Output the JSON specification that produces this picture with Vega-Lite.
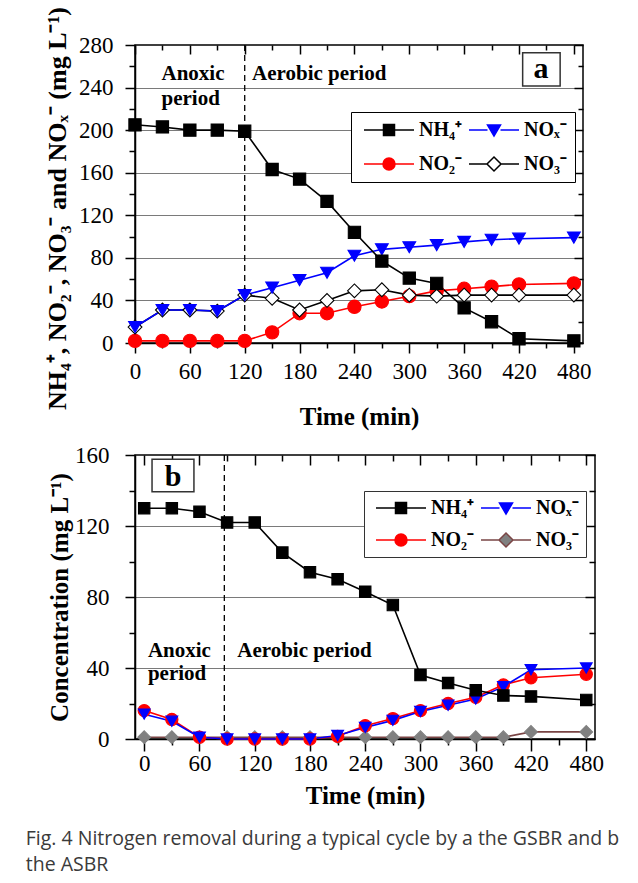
{
  "$schema": "https://vega.github.io/schema/vega-lite/v6.json",
  "background": "white",
  "padding": {"left": 25, "top": 5, "right": 5, "bottom": 4},
  "spacing": 13,
  "title": {
    "text": "Fig. 4 Nitrogen removal during a typical cycle by a the GSBR and b",
    "subtitle": "the ASBR",
    "orient": "bottom", "anchor": "start", "font": "Open Sans", "fontSize": 19.5, "fontWeight": "normal",
    "color": "#3a3a3a", "offset": 21, "dx": -18,
    "subtitleFont": "Open Sans", "subtitleFontSize": 19.5, "subtitleFontWeight": "normal", "subtitleColor": "#3a3a3a", "subtitlePadding": 7
  },
  "config": {
    "font": "Liberation Serif",
    "view": {"stroke": "black", "strokeWidth": 1.5},
    "axis": {
      "domainColor": "black", "domainWidth": 1.5, "tickColor": "black", "tickWidth": 1.5,
      "labelFont": "Liberation Serif", "labelFontSize": 23, "labelColor": "black",
      "titleFont": "Liberation Serif", "titleFontWeight": "bold", "titleColor": "black",
      "labelFlush": false, "labelOverlap": false
    }
  },
  "datasets": {
    "a": [
      {"s":"NO₂⁻","t":0,"c":2},{"s":"NO₂⁻","t":30,"c":2},{"s":"NO₂⁻","t":60,"c":2},{"s":"NO₂⁻","t":90,"c":2},{"s":"NO₂⁻","t":120,"c":2},{"s":"NO₂⁻","t":150,"c":10},{"s":"NO₂⁻","t":180,"c":28},{"s":"NO₂⁻","t":210,"c":28},{"s":"NO₂⁻","t":240,"c":34},{"s":"NO₂⁻","t":270,"c":39},{"s":"NO₂⁻","t":300,"c":44},{"s":"NO₂⁻","t":330,"c":49},{"s":"NO₂⁻","t":360,"c":51},{"s":"NO₂⁻","t":390,"c":53},{"s":"NO₂⁻","t":420,"c":55},{"s":"NO₂⁻","t":480,"c":56},
      {"s":"NO₃⁻","t":0,"c":15},{"s":"NO₃⁻","t":30,"c":31},{"s":"NO₃⁻","t":60,"c":31},{"s":"NO₃⁻","t":90,"c":30},{"s":"NO₃⁻","t":120,"c":45},{"s":"NO₃⁻","t":150,"c":42},{"s":"NO₃⁻","t":180,"c":31},{"s":"NO₃⁻","t":210,"c":40},{"s":"NO₃⁻","t":240,"c":49},{"s":"NO₃⁻","t":270,"c":50},{"s":"NO₃⁻","t":300,"c":45},{"s":"NO₃⁻","t":330,"c":44},{"s":"NO₃⁻","t":360,"c":45},{"s":"NO₃⁻","t":390,"c":45},{"s":"NO₃⁻","t":420,"c":45},{"s":"NO₃⁻","t":480,"c":45},
      {"s":"NOₓ⁻","t":0,"c":15},{"s":"NOₓ⁻","t":30,"c":31},{"s":"NOₓ⁻","t":60,"c":31},{"s":"NOₓ⁻","t":90,"c":30},{"s":"NOₓ⁻","t":120,"c":45},{"s":"NOₓ⁻","t":150,"c":52},{"s":"NOₓ⁻","t":180,"c":59},{"s":"NOₓ⁻","t":210,"c":66},{"s":"NOₓ⁻","t":240,"c":82},{"s":"NOₓ⁻","t":270,"c":88},{"s":"NOₓ⁻","t":300,"c":90},{"s":"NOₓ⁻","t":330,"c":92},{"s":"NOₓ⁻","t":360,"c":95},{"s":"NOₓ⁻","t":390,"c":97},{"s":"NOₓ⁻","t":420,"c":98},{"s":"NOₓ⁻","t":480,"c":99},
      {"s":"NH₄⁺","t":0,"c":205},{"s":"NH₄⁺","t":30,"c":203},{"s":"NH₄⁺","t":60,"c":200},{"s":"NH₄⁺","t":90,"c":200},{"s":"NH₄⁺","t":120,"c":199},{"s":"NH₄⁺","t":150,"c":163},{"s":"NH₄⁺","t":180,"c":154},{"s":"NH₄⁺","t":210,"c":133},{"s":"NH₄⁺","t":240,"c":104},{"s":"NH₄⁺","t":270,"c":77},{"s":"NH₄⁺","t":300,"c":61},{"s":"NH₄⁺","t":330,"c":56},{"s":"NH₄⁺","t":360,"c":33},{"s":"NH₄⁺","t":390,"c":20},{"s":"NH₄⁺","t":420,"c":4},{"s":"NH₄⁺","t":480,"c":2}
    ],
    "b": [
      {"s":"NO₃⁻","t":0,"c":1},{"s":"NO₃⁻","t":30,"c":1},{"s":"NO₃⁻","t":60,"c":1},{"s":"NO₃⁻","t":90,"c":1},{"s":"NO₃⁻","t":120,"c":1},{"s":"NO₃⁻","t":150,"c":1},{"s":"NO₃⁻","t":180,"c":1},{"s":"NO₃⁻","t":210,"c":1},{"s":"NO₃⁻","t":240,"c":1},{"s":"NO₃⁻","t":270,"c":1},{"s":"NO₃⁻","t":300,"c":1},{"s":"NO₃⁻","t":330,"c":1},{"s":"NO₃⁻","t":360,"c":1},{"s":"NO₃⁻","t":390,"c":1},{"s":"NO₃⁻","t":420,"c":4},{"s":"NO₃⁻","t":480,"c":4},
      {"s":"NO₂⁻","t":0,"c":16},{"s":"NO₂⁻","t":30,"c":11},{"s":"NO₂⁻","t":60,"c":1},{"s":"NO₂⁻","t":90,"c":0},{"s":"NO₂⁻","t":120,"c":0},{"s":"NO₂⁻","t":150,"c":0},{"s":"NO₂⁻","t":180,"c":0},{"s":"NO₂⁻","t":210,"c":1.5},{"s":"NO₂⁻","t":240,"c":7.5},{"s":"NO₂⁻","t":270,"c":11.5},{"s":"NO₂⁻","t":300,"c":16},{"s":"NO₂⁻","t":330,"c":20},{"s":"NO₂⁻","t":360,"c":23.5},{"s":"NO₂⁻","t":390,"c":30.5},{"s":"NO₂⁻","t":420,"c":34.5},{"s":"NO₂⁻","t":480,"c":36.5},
      {"s":"NOₓ⁻","t":0,"c":14},{"s":"NOₓ⁻","t":30,"c":10},{"s":"NOₓ⁻","t":60,"c":1},{"s":"NOₓ⁻","t":90,"c":0},{"s":"NOₓ⁻","t":120,"c":0},{"s":"NOₓ⁻","t":150,"c":0},{"s":"NOₓ⁻","t":180,"c":0},{"s":"NOₓ⁻","t":210,"c":2},{"s":"NOₓ⁻","t":240,"c":6.5},{"s":"NOₓ⁻","t":270,"c":10.5},{"s":"NOₓ⁻","t":300,"c":15.5},{"s":"NOₓ⁻","t":330,"c":19},{"s":"NOₓ⁻","t":360,"c":22.5},{"s":"NOₓ⁻","t":390,"c":29.5},{"s":"NOₓ⁻","t":420,"c":39},{"s":"NOₓ⁻","t":480,"c":40},
      {"s":"NH₄⁺","t":0,"c":130},{"s":"NH₄⁺","t":30,"c":130},{"s":"NH₄⁺","t":60,"c":128},{"s":"NH₄⁺","t":90,"c":122},{"s":"NH₄⁺","t":120,"c":122},{"s":"NH₄⁺","t":150,"c":105},{"s":"NH₄⁺","t":180,"c":94},{"s":"NH₄⁺","t":210,"c":90},{"s":"NH₄⁺","t":240,"c":83},{"s":"NH₄⁺","t":270,"c":75.5},{"s":"NH₄⁺","t":300,"c":36},{"s":"NH₄⁺","t":330,"c":31.5},{"s":"NH₄⁺","t":360,"c":27.5},{"s":"NH₄⁺","t":390,"c":24.5},{"s":"NH₄⁺","t":420,"c":24},{"s":"NH₄⁺","t":480,"c":22}
    ]
  },
  "vconcat": [
    {
      "width": 448, "height": 298,
      "data": {"name": "a"},
      "resolve": {"scale": {"shape": "independent", "fill": "independent", "stroke": "independent", "size": "independent"}, "axis": {"x": "independent", "y": "independent"}},
      "layer": [
        {
          "mark": {"type": "line", "strokeWidth": 1.6},
          "encoding": {
            "x": {"field": "t", "type": "quantitative", "scale": {"domain": [0, 490], "nice": false, "zero": false},
              "axis": {"orient": "bottom", "values": [0,30,60,90,120,150,180,210,240,270,300,330,360,390,420,450,480],
                "labelExpr": "datum.value % 60 === 0 ? datum.label : ''",
                "tickSize": {"condition": {"test": "datum.value % 60 === 0", "value": 10}, "value": 5},
                "labelPadding": 7, "title": "Time (min)", "titleFontSize": 25, "titlePadding": 21, "grid": false}},
            "y": {"field": "c", "type": "quantitative", "scale": {"domain": [0, 280], "nice": false},
              "axis": {"orient": "left", "values": [0,20,40,60,80,100,120,140,160,180,200,220,240,260,280],
                "labelExpr": "datum.value % 40 === 0 ? datum.label : ''",
                "tickSize": {"condition": {"test": "datum.value % 40 === 0", "value": 10}, "value": 6},
                "labelPadding": 12, "title": "NH₄⁺, NO₂⁻, NO₃⁻ and NOₓ⁻ (mg L⁻¹)", "titleFontSize": 26, "titlePadding": 8, "titleY": 163,
                "grid": true, "gridColor": "#7a7a7a", "gridWidth": 1.2,
                "gridOpacity": {"condition": {"test": "datum.value % 40 === 0 && datum.value > 0 && datum.value < 280", "value": 1}, "value": 0}}},
            "stroke": {"field": "s", "type": "nominal", "legend": null,
              "scale": {"domain": ["NH₄⁺", "NOₓ⁻", "NO₂⁻", "NO₃⁻"], "range": ["#000000", "#0000ff", "#ff0000", "#000000"]}}
          }
        },
        {
          "data": {"values": [{}]},
          "mark": {"type": "rule", "color": "black", "strokeWidth": 1.3, "strokeDash": [6, 4]},
          "encoding": {"x": {"datum": 120, "axis": null}}
        },
        {
          "mark": {"type": "point", "filled": true, "opacity": 1, "strokeWidth": 1.1},
          "encoding": {
            "x": {"field": "t", "type": "quantitative", "axis": null},
            "y": {"field": "c", "type": "quantitative", "axis": null},
            "shape": {"field": "s", "type": "nominal", "legend": null,
              "scale": {"domain": ["NH₄⁺", "NOₓ⁻", "NO₂⁻", "NO₃⁻"], "range": ["square", "triangle-down", "circle", "diamond"]}},
            "fill": {"field": "s", "type": "nominal", "legend": null,
              "scale": {"domain": ["NH₄⁺", "NOₓ⁻", "NO₂⁻", "NO₃⁻"], "range": ["#000000", "#0000ff", "#ff0000", "#ffffff"]}},
            "stroke": {"field": "s", "type": "nominal", "legend": null,
              "scale": {"domain": ["NH₄⁺", "NOₓ⁻", "NO₂⁻", "NO₃⁻"], "range": ["#000000", "#0000ff", "#ff0000", "#000000"]}},
            "size": {"field": "s", "type": "nominal", "legend": null,
              "scale": {"domain": ["NH₄⁺", "NOₓ⁻", "NO₂⁻", "NO₃⁻"], "range": [150, 190, 140, 190]}}
          }
        },
        {
          "transform": [{"filter": "false"}],
          "mark": {"type": "point", "filled": true},
          "encoding": {
            "x": {"field": "t", "type": "quantitative",
              "axis": {"orient": "top", "values": [0,30,60,90,120,150,180,210,240,270,300,330,360,390,420,450,480], "labels": false, "domain": false, "title": null, "grid": false,
                "tickSize": {"condition": {"test": "datum.value % 60 === 0", "value": -9}, "value": -5}}},
            "y": {"field": "c", "type": "quantitative",
              "axis": {"orient": "right", "values": [0,20,40,60,80,100,120,140,160,180,200,220,240,260,280], "labels": false, "domain": false, "title": null, "grid": false,
                "tickSize": {"condition": {"test": "datum.value % 40 === 0", "value": -9}, "value": -5}}},
            "shape": {"field": "s", "type": "nominal",
              "scale": {"domain": ["NH₄⁺", "NOₓ⁻", "NO₂⁻", "NO₃⁻"], "range": [
                "M-1,0H2.9M5.1,0H9M2.9,-1.1H5.1V1.1H2.9Z",
                "M-1,0H2.7M5.3,0H9M2.7,-1H5.3L4,1.2Z",
                "M-1,0H2.8M5.2,0H9M2.8,0A1.2,1.2,0,1,1,5.2,0A1.2,1.2,0,1,1,2.8,0Z",
                "M-1,0H2.6M5.4,0H9M4,-1.4L5.4,0L4,1.4L2.6,0Z"]},
              "legend": {"title": null, "orient": "none", "legendX": 216, "legendY": 67, "columns": 2, "direction": "horizontal", "symbolSize": 100, "symbolStrokeWidth": 1.5, "symbolOpacity": 1,
                "labelFont": "Liberation Serif", "labelFontWeight": "bold", "labelFontSize": 20, "labelColor": "black", "labelOffset": 40,
                "columnPadding": 2, "rowPadding": 14, "padding": 8, "strokeColor": "black", "fillColor": "white"}},
            "fill": {"field": "s", "type": "nominal",
              "scale": {"domain": ["NH₄⁺", "NOₓ⁻", "NO₂⁻", "NO₃⁻"], "range": ["#000000", "#0000ff", "#ff0000", "#ffffff"]},
              "legend": {"title": null, "orient": "none", "legendX": 216, "legendY": 67, "columns": 2, "direction": "horizontal", "symbolSize": 100, "symbolStrokeWidth": 1.5, "symbolOpacity": 1,
                "labelFont": "Liberation Serif", "labelFontWeight": "bold", "labelFontSize": 20, "labelColor": "black", "labelOffset": 40,
                "columnPadding": 2, "rowPadding": 14, "padding": 8, "strokeColor": "black", "fillColor": "white"}},
            "stroke": {"field": "s", "type": "nominal",
              "scale": {"domain": ["NH₄⁺", "NOₓ⁻", "NO₂⁻", "NO₃⁻"], "range": ["#000000", "#0000ff", "#ff0000", "#000000"]},
              "legend": {"title": null, "orient": "none", "legendX": 216, "legendY": 67, "columns": 2, "direction": "horizontal", "symbolSize": 100, "symbolStrokeWidth": 1.5, "symbolOpacity": 1,
                "labelFont": "Liberation Serif", "labelFontWeight": "bold", "labelFontSize": 20, "labelColor": "black", "labelOffset": 40,
                "columnPadding": 2, "rowPadding": 14, "padding": 8, "strokeColor": "black", "fillColor": "white"}}
          }
        },
        {
          "data": {"values": [{}]},
          "mark": {"type": "text", "align": "left", "baseline": "alphabetic", "fontWeight": "bold", "fontSize": 21, "lineHeight": 25, "color": "black"},
          "encoding": {"x": {"datum": 29, "axis": null}, "y": {"datum": 247, "axis": null}, "text": {"value": ["Anoxic", "period"]}}
        },
        {
          "data": {"values": [{}]},
          "mark": {"type": "text", "align": "left", "baseline": "alphabetic", "fontWeight": "bold", "fontSize": 21, "color": "black"},
          "encoding": {"x": {"datum": 128, "axis": null}, "y": {"datum": 247, "axis": null}, "text": {"value": "Aerobic period"}}
        },
        {
          "data": {"values": [{}]},
          "mark": {"type": "rect", "fill": "white", "stroke": "#333333", "strokeWidth": 1.5},
          "encoding": {"x": {"datum": 424, "axis": null}, "x2": {"datum": 465}, "y": {"datum": 272.8, "axis": null}, "y2": {"datum": 241.5}}
        },
        {
          "data": {"values": [{}]},
          "mark": {"type": "text", "align": "center", "baseline": "alphabetic", "fontWeight": "bold", "fontSize": 30, "color": "black"},
          "encoding": {"x": {"datum": 444, "axis": null}, "y": {"datum": 249, "axis": null}, "text": {"value": "a"}}
        }
      ]
    },
    {
      "width": 460, "height": 284,
      "data": {"name": "b"},
      "resolve": {"scale": {"shape": "independent", "fill": "independent", "stroke": "independent", "size": "independent"}, "axis": {"x": "independent", "y": "independent"}},
      "layer": [
        {
          "mark": {"type": "line", "strokeWidth": 1.6},
          "encoding": {
            "x": {"field": "t", "type": "quantitative", "scale": {"domain": [-10, 489.5], "nice": false, "zero": false},
              "axis": {"orient": "bottom", "values": [0,30,60,90,120,150,180,210,240,270,300,330,360,390,420,450,480],
                "labelExpr": "datum.value % 60 === 0 ? datum.label : ''",
                "tickSize": {"condition": {"test": "datum.value % 60 === 0", "value": 12}, "value": 6},
                "labelPadding": 1, "title": "Time (min)", "titleFontSize": 25, "titlePadding": 8, "grid": false}},
            "y": {"field": "c", "type": "quantitative", "scale": {"domain": [0, 160], "nice": false},
              "axis": {"orient": "left", "values": [0,20,40,60,80,100,120,140,160],
                "labelExpr": "datum.value % 40 === 0 ? datum.label : ''",
                "tickSize": {"condition": {"test": "datum.value % 40 === 0", "value": 10}, "value": 6},
                "labelPadding": 16, "title": "Concentration (mg L⁻¹)", "titleFontSize": 25, "titlePadding": 2,
                "grid": true, "gridColor": "#7a7a7a", "gridWidth": 1.2,
                "gridOpacity": {"condition": {"test": "datum.value % 40 === 0 && datum.value > 0 && datum.value < 160", "value": 1}, "value": 0}}},
            "stroke": {"field": "s", "type": "nominal", "legend": null,
              "scale": {"domain": ["NH₄⁺", "NOₓ⁻", "NO₂⁻", "NO₃⁻"], "range": ["#000000", "#0000ff", "#ff0000", "#7a4545"]}}
          }
        },
        {
          "data": {"values": [{}]},
          "mark": {"type": "rule", "color": "black", "strokeWidth": 1.3, "strokeDash": [6, 4]},
          "encoding": {"x": {"datum": 87, "axis": null}}
        },
        {
          "mark": {"type": "point", "filled": true, "opacity": 1, "strokeWidth": 1.1},
          "encoding": {
            "x": {"field": "t", "type": "quantitative", "axis": null},
            "y": {"field": "c", "type": "quantitative", "axis": null},
            "shape": {"field": "s", "type": "nominal", "legend": null,
              "scale": {"domain": ["NH₄⁺", "NOₓ⁻", "NO₂⁻", "NO₃⁻"], "range": ["square", "triangle-down", "circle", "diamond"]}},
            "fill": {"field": "s", "type": "nominal", "legend": null,
              "scale": {"domain": ["NH₄⁺", "NOₓ⁻", "NO₂⁻", "NO₃⁻"], "range": ["#000000", "#0000ff", "#ff0000", "#808080"]}},
            "stroke": {"field": "s", "type": "nominal", "legend": null,
              "scale": {"domain": ["NH₄⁺", "NOₓ⁻", "NO₂⁻", "NO₃⁻"], "range": ["#000000", "#0000ff", "#ff0000", "#808080"]}},
            "size": {"field": "s", "type": "nominal", "legend": null,
              "scale": {"domain": ["NH₄⁺", "NOₓ⁻", "NO₂⁻", "NO₃⁻"], "range": [130, 160, 125, 150]}}
          }
        },
        {
          "transform": [{"filter": "false"}],
          "mark": {"type": "point", "filled": true},
          "encoding": {
            "x": {"field": "t", "type": "quantitative",
              "axis": {"orient": "top", "values": [0,30,60,90,120,150,180,210,240,270,300,330,360,390,420,450,480], "labels": false, "domain": false, "title": null, "grid": false,
                "tickSize": {"condition": {"test": "datum.value % 60 === 0", "value": -10}, "value": -6}}},
            "y": {"field": "c", "type": "quantitative",
              "axis": {"orient": "right", "values": [0,20,40,60,80,100,120,140,160], "labels": false, "domain": false, "title": null, "grid": false,
                "tickSize": {"condition": {"test": "datum.value % 40 === 0", "value": -10}, "value": -6}}},
            "shape": {"field": "s", "type": "nominal",
              "scale": {"domain": ["NH₄⁺", "NOₓ⁻", "NO₂⁻", "NO₃⁻"], "range": [
                "M-1,0H2.9M5.1,0H9M2.9,-1.1H5.1V1.1H2.9Z",
                "M-1,0H2.7M5.3,0H9M2.7,-1H5.3L4,1.2Z",
                "M-1,0H2.8M5.2,0H9M2.8,0A1.2,1.2,0,1,1,5.2,0A1.2,1.2,0,1,1,2.8,0Z",
                "M-1,0H2.6M5.4,0H9M4,-1.4L5.4,0L4,1.4L2.6,0Z"]},
              "legend": {"title": null, "orient": "none", "legendX": 229, "legendY": 36, "columns": 2, "direction": "horizontal", "symbolSize": 100, "symbolStrokeWidth": 1.5, "symbolOpacity": 1,
                "labelFont": "Liberation Serif", "labelFontWeight": "bold", "labelFontSize": 20, "labelColor": "black", "labelOffset": 40,
                "columnPadding": 2, "rowPadding": 12, "padding": 7, "strokeColor": "#333333", "fillColor": "white"}},
            "fill": {"field": "s", "type": "nominal",
              "scale": {"domain": ["NH₄⁺", "NOₓ⁻", "NO₂⁻", "NO₃⁻"], "range": ["#000000", "#0000ff", "#ff0000", "#808080"]},
              "legend": {"title": null, "orient": "none", "legendX": 229, "legendY": 36, "columns": 2, "direction": "horizontal", "symbolSize": 100, "symbolStrokeWidth": 1.5, "symbolOpacity": 1,
                "labelFont": "Liberation Serif", "labelFontWeight": "bold", "labelFontSize": 20, "labelColor": "black", "labelOffset": 40,
                "columnPadding": 2, "rowPadding": 12, "padding": 7, "strokeColor": "#333333", "fillColor": "white"}},
            "stroke": {"field": "s", "type": "nominal",
              "scale": {"domain": ["NH₄⁺", "NOₓ⁻", "NO₂⁻", "NO₃⁻"], "range": ["#000000", "#0000ff", "#ff0000", "#7a4545"]},
              "legend": {"title": null, "orient": "none", "legendX": 229, "legendY": 36, "columns": 2, "direction": "horizontal", "symbolSize": 100, "symbolStrokeWidth": 1.5, "symbolOpacity": 1,
                "labelFont": "Liberation Serif", "labelFontWeight": "bold", "labelFontSize": 20, "labelColor": "black", "labelOffset": 40,
                "columnPadding": 2, "rowPadding": 12, "padding": 7, "strokeColor": "#333333", "fillColor": "white"}}
          }
        },
        {
          "data": {"values": [{}]},
          "mark": {"type": "text", "align": "left", "baseline": "alphabetic", "fontWeight": "bold", "fontSize": 21, "lineHeight": 23, "color": "black"},
          "encoding": {"x": {"datum": 4, "axis": null}, "y": {"datum": 46, "axis": null}, "text": {"value": ["Anoxic", "period"]}}
        },
        {
          "data": {"values": [{}]},
          "mark": {"type": "text", "align": "left", "baseline": "alphabetic", "fontWeight": "bold", "fontSize": 21, "color": "black"},
          "encoding": {"x": {"datum": 101, "axis": null}, "y": {"datum": 46, "axis": null}, "text": {"value": "Aerobic period"}}
        },
        {
          "data": {"values": [{}]},
          "mark": {"type": "rect", "fill": "white", "stroke": "#333333", "strokeWidth": 1.5},
          "encoding": {"x": {"datum": 8.5, "axis": null}, "x2": {"datum": 54}, "y": {"datum": 157.6, "axis": null}, "y2": {"datum": 139.3}}
        },
        {
          "data": {"values": [{}]},
          "mark": {"type": "text", "align": "center", "baseline": "alphabetic", "fontWeight": "bold", "fontSize": 30, "color": "black"},
          "encoding": {"x": {"datum": 31.3, "axis": null}, "y": {"datum": 142.5, "axis": null}, "text": {"value": "b"}}
        }
      ]
    }
  ]
}
